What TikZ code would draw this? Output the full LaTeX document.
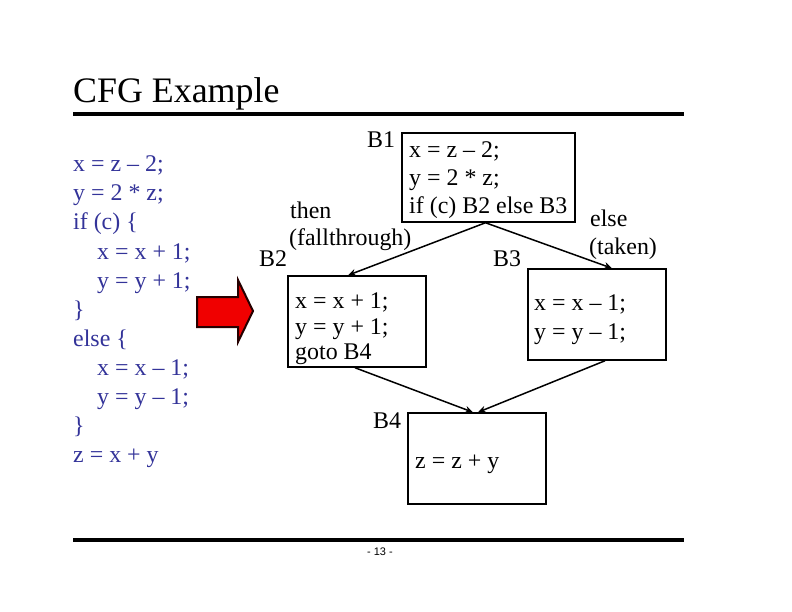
\documentclass[tikz,border=0pt]{standalone}
\usepackage{fontspec}
\setmainfont{Liberation Serif}
\newfontfamily\pagefont{Liberation Sans}
\usetikzlibrary{arrows.meta,calc}
\definecolor{codeblue}{RGB}{51,51,153}
\definecolor{arrowred}{RGB}{240,0,0}
\begin{document}
\begin{tikzpicture}[x=1bp,y=-1bp,
  txt/.style={anchor=base west,inner sep=0pt,font=\fontsize{24}{28}\selectfont},
  code/.style={txt,text=codeblue},
  bb/.style={draw,line width=1.5bp,minimum width=138bp,minimum height=91bp,inner sep=0pt},
  edge/.style={line width=1.5bp,-{Stealth[length=8bp,width=7bp]}},
  rule/.style={line width=4.5bp}]
\useasboundingbox[fill=white] (0,0) rectangle (792,612);
% title and rules
\node[anchor=base west,inner sep=0pt,font=\fontsize{36}{40}\selectfont] (title) at (73,103) {CFG Example};
\draw[rule] (73,114) -- (684,114);
\draw[rule] (73,540) -- (684,540);
\node[inner sep=0pt,font=\pagefont\fontsize{11}{12}\selectfont] (pg) at (380,552) {- 13 -};
% left code
\node[code] (c1) at (73,172) {x = z – 2;};
\node[code] (c2) at (73,201) {y = 2 * z;};
\node[code] (c3) at (73,230) {if (c) \{};
\node[code] (c4) at (97,259) {x = x + 1;};
\node[code] (c5) at (97,288) {y = y + 1;};
\node[code] (c6) at (73,317) {\}};
\node[code] (c7) at (73,346) {else \{};
\node[code] (c8) at (97,375) {x = x – 1;};
\node[code] (c9) at (97,404) {y = y – 1;};
\node[code] (c10) at (73,433) {\}};
\node[code] (c11) at (73,462) {z = x + y};
% red block arrow
\draw[fill=arrowred,draw=black!85!red,line width=2bp,line join=miter]
  (197,297) -- (238,297) -- (238,280) -- (253,311) -- (238,342) -- (238,327) -- (197,327) -- cycle;
% boxes
\node[bb,minimum width=173bp,minimum height=89bp] (b1) at (488.5,177.5) {};
\node[bb] (b2) at (357,321.5) {};
\node[bb] (b3) at (597,314.5) {};
\node[bb] (b4) at (477,458.5) {};
% box texts
\node[txt] (b1a) at (409,158) {x = z – 2;};
\node[txt] (b1b) at (409,186) {y = 2 * z;};
\node[txt] (b1c) at (409,214) {if (c) B2 else B3};
\node[txt] (b2a) at (295,308) {x = x + 1;};
\node[txt] (b2b) at (295,334) {y = y + 1;};
\node[txt] (b2c) at (295,359) {goto B4};
\node[txt] (b3a) at (534,310) {x = x – 1;};
\node[txt] (b3b) at (534,339) {y = y – 1;};
\node[txt] (b4a) at (415,468) {z = z + y};
% labels
\node[txt] (l1) at (367,148) {B1};
\node[txt] (l2) at (259,266) {B2};
\node[txt] (l3) at (493,266) {B3};
\node[txt] (l4) at (373,428) {B4};
\node[txt] (then) at (290,219) {then};
\node[txt] (fall) at (289,245) {(fallthrough)};
\node[txt] (else) at (590,227) {else};
\node[txt] (taken) at (589,254) {(taken)};
% edges
\draw[edge] ([xshift=-3bp]b1.south) -- ([xshift=-9bp]b2.north);
\draw[edge] ([xshift=-3bp]b1.south) -- ([xshift=15bp]b3.north);
\draw[edge] ([xshift=-2bp]b2.south) -- ([xshift=-4bp]b4.north);
\draw[edge] ([xshift=8bp]b3.south) -- ([xshift=1bp]b4.north);
\end{tikzpicture}
\end{document}
